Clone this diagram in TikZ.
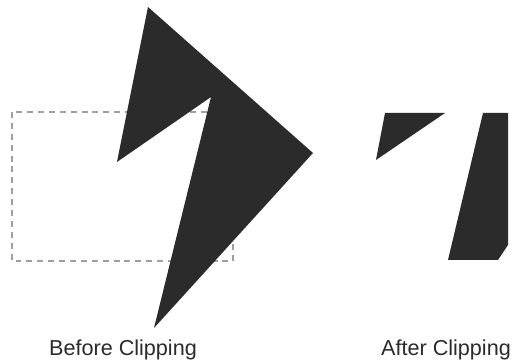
\documentclass[tikz,border=0pt]{standalone}
\usepackage{fontspec}
\setmainfont{Liberation Sans}
\usetikzlibrary{calc}
\definecolor{ink}{HTML}{2B2B2B}
\begin{document}
\begin{tikzpicture}[x=0.02cm,y=-0.02cm]
\useasboundingbox (0,0) rectangle (515,364);
\def\winl{12}
\def\wint{112}
\def\winr{233}
\def\winb{261}
\coordinate (T) at (148,7);
\coordinate (R) at (313,153);
\coordinate (B) at (154,328);
\coordinate (N) at (211,97);
\coordinate (L) at (117,162);

% clipping window
\draw[line width=0.6pt,gray!75,dash pattern=on 3.4pt off 2.8pt] (\winl,\wint) rectangle (\winr,\winb);
\fill[ink] (T) -- (R) -- (B) -- (N) -- (L) -- cycle;

% clipped pieces
\fill[ink] (385,113) -- (445,113) -- (376,160) -- cycle;
\fill[ink] (483,113) -- (508,113) -- (508,245) -- (498,260) -- (448,260) -- cycle;

\node[text=ink,font=\fontsize{12.3}{14}\selectfont] (before) at (123,350) {Before Clipping};
\node[text=ink,font=\fontsize{12.3}{14}\selectfont] (after) at (446,350) {After Clipping};
\end{tikzpicture}
\end{document}
